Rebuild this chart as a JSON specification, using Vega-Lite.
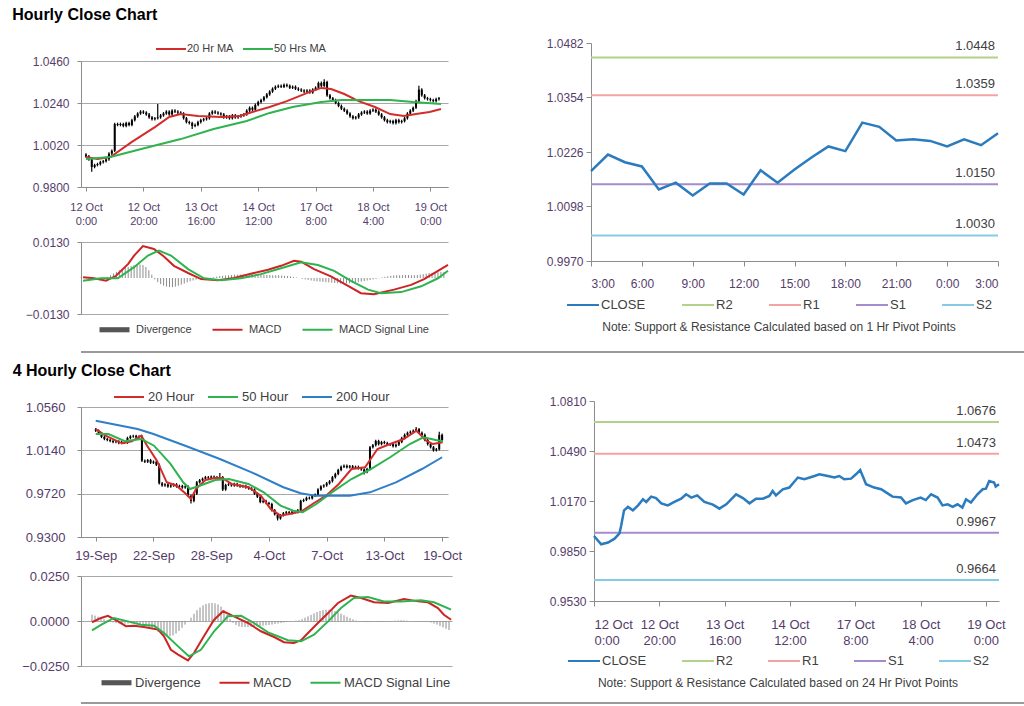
{
"$schema": "https://vega.github.io/schema/vega-lite/v6.json",
"background": "white",
"padding": {"left": 12, "top": 7, "right": 0, "bottom": 0},
"config": {
  "font": "Liberation Sans",
  "view": {"stroke": null},
  "axis": {"labelFont": "Liberation Sans", "labelColor": "#553d6b", "domainColor": "#8c8c8c", "tickColor": "#8c8c8c", "gridColor": "#a8a8a8", "labelFontSize": 12, "tickSize": 4},
  "legend": {"labelFont": "Liberation Sans", "labelColor": "#404040", "padding": 0, "symbolType": "stroke", "symbolSize": 900, "symbolStrokeWidth": 2, "labelOffset": 2, "direction": "horizontal", "titleLimit": 600},
  "title": {"font": "Liberation Sans"}
},
"datasets": {
  "h1": [
{"i":0,"o":0.9970,"h":0.9977,"l":0.9953,"c":0.9960},{"i":1,"o":0.9960,"h":0.9967,"l":0.9938,"c":0.9945},{"i":2,"o":0.9945,"h":0.9952,"l":0.9880,"c":0.9905},{"i":3,"o":0.9905,"h":0.9922,"l":0.9898,"c":0.9915},{"i":4,"o":0.9915,"h":0.9927,"l":0.9908,"c":0.9920},{"i":5,"o":0.9920,"h":0.9937,"l":0.9913,"c":0.9930},{"i":6,"o":0.9930,"h":0.9942,"l":0.9923,"c":0.9935},{"i":7,"o":0.9935,"h":0.9952,"l":0.9928,"c":0.9945},{"i":8,"o":0.9945,"h":0.9982,"l":0.9938,"c":0.9975},{"i":9,"o":0.9975,"h":0.9997,"l":0.9968,"c":0.9990},
{"i":10,"o":0.9990,"h":1.0137,"l":0.9983,"c":1.0130},{"i":11,"o":1.0130,"h":1.0137,"l":1.0118,"c":1.0125},{"i":12,"o":1.0125,"h":1.0137,"l":1.0118,"c":1.0130},{"i":13,"o":1.0130,"h":1.0137,"l":1.0113,"c":1.0120},{"i":14,"o":1.0120,"h":1.0142,"l":1.0113,"c":1.0135},{"i":15,"o":1.0135,"h":1.0142,"l":1.0118,"c":1.0125},{"i":16,"o":1.0125,"h":1.0157,"l":1.0118,"c":1.0150},{"i":17,"o":1.0150,"h":1.0177,"l":1.0143,"c":1.0170},{"i":18,"o":1.0170,"h":1.0192,"l":1.0163,"c":1.0185},{"i":19,"o":1.0185,"h":1.0202,"l":1.0178,"c":1.0195},
{"i":20,"o":1.0195,"h":1.0202,"l":1.0183,"c":1.0190},{"i":21,"o":1.0190,"h":1.0197,"l":1.0173,"c":1.0180},{"i":22,"o":1.0180,"h":1.0187,"l":1.0158,"c":1.0165},{"i":23,"o":1.0165,"h":1.0172,"l":1.0148,"c":1.0155},{"i":24,"o":1.0155,"h":1.0167,"l":1.0148,"c":1.0160},{"i":25,"o":1.0160,"h":1.0235,"l":1.0153,"c":1.0165},{"i":26,"o":1.0165,"h":1.0182,"l":1.0158,"c":1.0175},{"i":27,"o":1.0175,"h":1.0192,"l":1.0168,"c":1.0185},{"i":28,"o":1.0185,"h":1.0202,"l":1.0178,"c":1.0195},{"i":29,"o":1.0195,"h":1.0202,"l":1.0173,"c":1.0180},
{"i":30,"o":1.0180,"h":1.0207,"l":1.0173,"c":1.0200},{"i":31,"o":1.0200,"h":1.0207,"l":1.0188,"c":1.0195},{"i":32,"o":1.0195,"h":1.0202,"l":1.0183,"c":1.0190},{"i":33,"o":1.0190,"h":1.0197,"l":1.0178,"c":1.0185},{"i":34,"o":1.0185,"h":1.0192,"l":1.0153,"c":1.0160},{"i":35,"o":1.0160,"h":1.0167,"l":1.0133,"c":1.0140},{"i":36,"o":1.0140,"h":1.0147,"l":1.0128,"c":1.0135},{"i":37,"o":1.0135,"h":1.0142,"l":1.0104,"c":1.0120},{"i":38,"o":1.0120,"h":1.0132,"l":1.0113,"c":1.0125},{"i":39,"o":1.0125,"h":1.0147,"l":1.0118,"c":1.0140},
{"i":40,"o":1.0140,"h":1.0157,"l":1.0133,"c":1.0150},{"i":41,"o":1.0150,"h":1.0162,"l":1.0143,"c":1.0155},{"i":42,"o":1.0155,"h":1.0167,"l":1.0148,"c":1.0160},{"i":43,"o":1.0160,"h":1.0192,"l":1.0153,"c":1.0185},{"i":44,"o":1.0185,"h":1.0202,"l":1.0178,"c":1.0195},{"i":45,"o":1.0195,"h":1.0202,"l":1.0183,"c":1.0190},{"i":46,"o":1.0190,"h":1.0197,"l":1.0178,"c":1.0185},{"i":47,"o":1.0185,"h":1.0192,"l":1.0173,"c":1.0180},{"i":48,"o":1.0180,"h":1.0187,"l":1.0158,"c":1.0165},{"i":49,"o":1.0165,"h":1.0177,"l":1.0158,"c":1.0170},
{"i":50,"o":1.0170,"h":1.0177,"l":1.0153,"c":1.0160},{"i":51,"o":1.0160,"h":1.0182,"l":1.0153,"c":1.0175},{"i":52,"o":1.0175,"h":1.0182,"l":1.0158,"c":1.0165},{"i":53,"o":1.0165,"h":1.0177,"l":1.0158,"c":1.0170},{"i":54,"o":1.0170,"h":1.0182,"l":1.0163,"c":1.0175},{"i":55,"o":1.0175,"h":1.0187,"l":1.0168,"c":1.0180},{"i":56,"o":1.0180,"h":1.0207,"l":1.0173,"c":1.0200},{"i":57,"o":1.0200,"h":1.0222,"l":1.0193,"c":1.0215},{"i":58,"o":1.0215,"h":1.0222,"l":1.0198,"c":1.0205},{"i":59,"o":1.0205,"h":1.0237,"l":1.0198,"c":1.0230},
{"i":60,"o":1.0230,"h":1.0252,"l":1.0223,"c":1.0245},{"i":61,"o":1.0245,"h":1.0262,"l":1.0238,"c":1.0255},{"i":62,"o":1.0255,"h":1.0277,"l":1.0248,"c":1.0270},{"i":63,"o":1.0270,"h":1.0292,"l":1.0263,"c":1.0285},{"i":64,"o":1.0285,"h":1.0307,"l":1.0278,"c":1.0300},{"i":65,"o":1.0300,"h":1.0322,"l":1.0293,"c":1.0315},{"i":66,"o":1.0315,"h":1.0332,"l":1.0308,"c":1.0325},{"i":67,"o":1.0325,"h":1.0337,"l":1.0318,"c":1.0330},{"i":68,"o":1.0330,"h":1.0337,"l":1.0318,"c":1.0325},{"i":69,"o":1.0325,"h":1.0342,"l":1.0318,"c":1.0335},
{"i":70,"o":1.0335,"h":1.0342,"l":1.0323,"c":1.0330},{"i":71,"o":1.0330,"h":1.0337,"l":1.0313,"c":1.0320},{"i":72,"o":1.0320,"h":1.0332,"l":1.0313,"c":1.0325},{"i":73,"o":1.0325,"h":1.0332,"l":1.0308,"c":1.0315},{"i":74,"o":1.0315,"h":1.0322,"l":1.0303,"c":1.0310},{"i":75,"o":1.0310,"h":1.0317,"l":1.0298,"c":1.0305},{"i":76,"o":1.0305,"h":1.0312,"l":1.0293,"c":1.0300},{"i":77,"o":1.0300,"h":1.0312,"l":1.0293,"c":1.0305},{"i":78,"o":1.0305,"h":1.0312,"l":1.0288,"c":1.0295},{"i":79,"o":1.0295,"h":1.0317,"l":1.0288,"c":1.0310},
{"i":80,"o":1.0310,"h":1.0327,"l":1.0303,"c":1.0320},{"i":81,"o":1.0320,"h":1.0352,"l":1.0313,"c":1.0345},{"i":82,"o":1.0345,"h":1.0352,"l":1.0323,"c":1.0330},{"i":83,"o":1.0330,"h":1.0365,"l":1.0323,"c":1.0350},{"i":84,"o":1.0350,"h":1.0357,"l":1.0273,"c":1.0280},{"i":85,"o":1.0280,"h":1.0287,"l":1.0258,"c":1.0265},{"i":86,"o":1.0265,"h":1.0272,"l":1.0248,"c":1.0255},{"i":87,"o":1.0255,"h":1.0262,"l":1.0233,"c":1.0240},{"i":88,"o":1.0240,"h":1.0247,"l":1.0218,"c":1.0225},{"i":89,"o":1.0225,"h":1.0232,"l":1.0203,"c":1.0210},
{"i":90,"o":1.0210,"h":1.0217,"l":1.0193,"c":1.0200},{"i":91,"o":1.0200,"h":1.0207,"l":1.0178,"c":1.0185},{"i":92,"o":1.0185,"h":1.0192,"l":1.0163,"c":1.0170},{"i":93,"o":1.0170,"h":1.0177,"l":1.0153,"c":1.0160},{"i":94,"o":1.0160,"h":1.0172,"l":1.0153,"c":1.0165},{"i":95,"o":1.0165,"h":1.0187,"l":1.0158,"c":1.0180},{"i":96,"o":1.0180,"h":1.0197,"l":1.0173,"c":1.0190},{"i":97,"o":1.0190,"h":1.0202,"l":1.0183,"c":1.0195},{"i":98,"o":1.0195,"h":1.0202,"l":1.0178,"c":1.0185},{"i":99,"o":1.0185,"h":1.0207,"l":1.0178,"c":1.0200},
{"i":100,"o":1.0200,"h":1.0212,"l":1.0193,"c":1.0205},{"i":101,"o":1.0205,"h":1.0212,"l":1.0188,"c":1.0195},{"i":102,"o":1.0195,"h":1.0202,"l":1.0173,"c":1.0180},{"i":103,"o":1.0180,"h":1.0187,"l":1.0158,"c":1.0165},{"i":104,"o":1.0165,"h":1.0172,"l":1.0143,"c":1.0150},{"i":105,"o":1.0150,"h":1.0157,"l":1.0133,"c":1.0140},{"i":106,"o":1.0140,"h":1.0152,"l":1.0133,"c":1.0145},{"i":107,"o":1.0145,"h":1.0152,"l":1.0128,"c":1.0135},{"i":108,"o":1.0135,"h":1.0157,"l":1.0128,"c":1.0150},{"i":109,"o":1.0150,"h":1.0157,"l":1.0133,"c":1.0140},
{"i":110,"o":1.0140,"h":1.0152,"l":1.0133,"c":1.0145},{"i":111,"o":1.0145,"h":1.0167,"l":1.0138,"c":1.0160},{"i":112,"o":1.0160,"h":1.0192,"l":1.0153,"c":1.0185},{"i":113,"o":1.0185,"h":1.0207,"l":1.0178,"c":1.0200},{"i":114,"o":1.0200,"h":1.0222,"l":1.0193,"c":1.0215},{"i":115,"o":1.0215,"h":1.0257,"l":1.0208,"c":1.0250},{"i":116,"o":1.0250,"h":1.0330,"l":1.0243,"c":1.0310},{"i":117,"o":1.0310,"h":1.0317,"l":1.0273,"c":1.0280},{"i":118,"o":1.0280,"h":1.0287,"l":1.0258,"c":1.0265},{"i":119,"o":1.0265,"h":1.0272,"l":1.0253,"c":1.0260},
{"i":120,"o":1.0260,"h":1.0267,"l":1.0248,"c":1.0255},{"i":121,"o":1.0255,"h":1.0262,"l":1.0243,"c":1.0250},{"i":122,"o":1.0250,"h":1.0267,"l":1.0243,"c":1.0260},{"i":123,"o":1.0260,"h":1.0272,"l":1.0253,"c":1.0265}
  ],
  "h1ma": [
{"s":"20 Hr MA","i":0,"v":0.9957},{"s":"20 Hr MA","i":4,"v":0.9947},{"s":"20 Hr MA","i":8.5,"v":0.9957},{"s":"20 Hr MA","i":16,"v":1.0036},{"s":"20 Hr MA","i":24,"v":1.0114},{"s":"20 Hr MA","i":29,"v":1.0167},{"s":"20 Hr MA","i":33,"v":1.0182},{"s":"20 Hr MA","i":39,"v":1.0172},{"s":"20 Hr MA","i":47,"v":1.0167},{"s":"20 Hr MA","i":53.6,"v":1.0172},{"s":"20 Hr MA","i":58,"v":1.0193},{"s":"20 Hr MA","i":64,"v":1.0219},{"s":"20 Hr MA","i":70,"v":1.0250},{"s":"20 Hr MA","i":78,"v":1.0298},{"s":"20 Hr MA","i":82,"v":1.0319},{"s":"20 Hr MA","i":85.4,"v":1.0313},{"s":"20 Hr MA","i":90,"v":1.0287},{"s":"20 Hr MA","i":95,"v":1.0250},{"s":"20 Hr MA","i":100.7,"v":1.0219},{"s":"20 Hr MA","i":106,"v":1.0182},{"s":"20 Hr MA","i":110.8,"v":1.0172},{"s":"20 Hr MA","i":115,"v":1.0182},{"s":"20 Hr MA","i":119.7,"v":1.0193},{"s":"20 Hr MA","i":123.7,"v":1.0209},
{"s":"50 Hrs MA","i":0,"v":0.9947},{"s":"50 Hrs MA","i":8.5,"v":0.9957},{"s":"50 Hrs MA","i":22,"v":1.0010},{"s":"50 Hrs MA","i":33,"v":1.0051},{"s":"50 Hrs MA","i":44.5,"v":1.0104},{"s":"50 Hrs MA","i":56,"v":1.0146},{"s":"50 Hrs MA","i":64,"v":1.0188},{"s":"50 Hrs MA","i":72,"v":1.0219},{"s":"50 Hrs MA","i":82,"v":1.0245},{"s":"50 Hrs MA","i":89,"v":1.0256},{"s":"50 Hrs MA","i":106,"v":1.0256},{"s":"50 Hrs MA","i":114,"v":1.0245},{"s":"50 Hrs MA","i":123.7,"v":1.0235}
  ],
  "h1macd": [
{"s":"MACD","i":0.7,"v":0.0003},{"s":"MACD","i":4.4,"v":-0.0001},{"s":"MACD","i":8.5,"v":-0.0010},{"s":"MACD","i":11.9,"v":0.0008},{"s":"MACD","i":16,"v":0.0051},{"s":"MACD","i":18,"v":0.0081},{"s":"MACD","i":21,"v":0.0115},{"s":"MACD","i":24.7,"v":0.0105},{"s":"MACD","i":28.1,"v":0.0078},{"s":"MACD","i":31.5,"v":0.0044},{"s":"MACD","i":36.3,"v":0.0018},{"s":"MACD","i":40.7,"v":-0.0004},{"s":"MACD","i":46.4,"v":-0.0008},{"s":"MACD","i":51.9,"v":0.0000},{"s":"MACD","i":58.6,"v":0.0018},{"s":"MACD","i":63.4,"v":0.0030},{"s":"MACD","i":67.8,"v":0.0044},{"s":"MACD","i":72.2,"v":0.0062},{"s":"MACD","i":74.6,"v":0.0059},{"s":"MACD","i":79,"v":0.0032},{"s":"MACD","i":84.7,"v":0.0006},{"s":"MACD","i":90.5,"v":-0.0028},{"s":"MACD","i":94.9,"v":-0.0055},{"s":"MACD","i":99.3,"v":-0.0059},{"s":"MACD","i":106.1,"v":-0.0042},{"s":"MACD","i":111.9,"v":-0.0025},{"s":"MACD","i":116.3,"v":-0.0004},{"s":"MACD","i":121,"v":0.0026},{"s":"MACD","i":124.4,"v":0.0047},
{"s":"MACD Signal Line","i":0.7,"v":-0.0010},{"s":"MACD Signal Line","i":6.8,"v":-0.0001},{"s":"MACD Signal Line","i":12.5,"v":-0.0001},{"s":"MACD Signal Line","i":18,"v":0.0039},{"s":"MACD Signal Line","i":22.7,"v":0.0081},{"s":"MACD Signal Line","i":26.4,"v":0.0099},{"s":"MACD Signal Line","i":30.5,"v":0.0081},{"s":"MACD Signal Line","i":36.3,"v":0.0032},{"s":"MACD Signal Line","i":41.7,"v":-0.0001},{"s":"MACD Signal Line","i":47.5,"v":-0.0008},{"s":"MACD Signal Line","i":54.2,"v":-0.0001},{"s":"MACD Signal Line","i":61,"v":0.0014},{"s":"MACD Signal Line","i":67.8,"v":0.0035},{"s":"MACD Signal Line","i":74.6,"v":0.0057},{"s":"MACD Signal Line","i":80.3,"v":0.0047},{"s":"MACD Signal Line","i":85.8,"v":0.0026},{"s":"MACD Signal Line","i":91.5,"v":-0.0010},{"s":"MACD Signal Line","i":97.3,"v":-0.0042},{"s":"MACD Signal Line","i":101.7,"v":-0.0055},{"s":"MACD Signal Line","i":108.5,"v":-0.0051},{"s":"MACD Signal Line","i":115.3,"v":-0.0030},{"s":"MACD Signal Line","i":121,"v":-0.0001},{"s":"MACD Signal Line","i":124.4,"v":0.0026}
  ],
  "h1div": [
{"i":0,"v":0.0002},{"i":1,"v":0.0003},{"i":2,"v":0.0002},{"i":3,"v":0.0001},{"i":4,"v":-0.0002},{"i":5,"v":-0.0004},{"i":6,"v":-0.0005},{"i":7,"v":-0.0003},{"i":8,"v":0.0000},{"i":9,"v":0.0004},
{"i":10,"v":0.0010},{"i":11,"v":0.0016},{"i":12,"v":0.0022},{"i":13,"v":0.0028},{"i":14,"v":0.0033},{"i":15,"v":0.0037},{"i":16,"v":0.0040},{"i":17,"v":0.0043},{"i":18,"v":0.0046},{"i":19,"v":0.0048},
{"i":20,"v":0.0049},{"i":21,"v":0.0047},{"i":22,"v":0.0040},{"i":23,"v":0.0028},{"i":24,"v":0.0012},{"i":25,"v":-0.0005},{"i":26,"v":-0.0015},{"i":27,"v":-0.0022},{"i":28,"v":-0.0028},{"i":29,"v":-0.0031},
{"i":30,"v":-0.0033},{"i":31,"v":-0.0033},{"i":32,"v":-0.0031},{"i":33,"v":-0.0028},{"i":34,"v":-0.0024},{"i":35,"v":-0.0020},{"i":36,"v":-0.0016},{"i":37,"v":-0.0012},{"i":38,"v":-0.0009},{"i":39,"v":-0.0006},
{"i":40,"v":-0.0004},{"i":41,"v":-0.0003},{"i":42,"v":-0.0002},{"i":43,"v":-0.0001},{"i":44,"v":0.0001},{"i":45,"v":0.0003},{"i":46,"v":0.0005},{"i":47,"v":0.0007},{"i":48,"v":0.0008},{"i":49,"v":0.0009},
{"i":50,"v":0.0010},{"i":51,"v":0.0011},{"i":52,"v":0.0012},{"i":53,"v":0.0012},{"i":54,"v":0.0013},{"i":55,"v":0.0013},{"i":56,"v":0.0014},{"i":57,"v":0.0014},{"i":58,"v":0.0014},{"i":59,"v":0.0013},
{"i":60,"v":0.0013},{"i":61,"v":0.0012},{"i":62,"v":0.0012},{"i":63,"v":0.0011},{"i":64,"v":0.0011},{"i":65,"v":0.0010},{"i":66,"v":0.0010},{"i":67,"v":0.0010},{"i":68,"v":0.0009},{"i":69,"v":0.0008},
{"i":70,"v":0.0007},{"i":71,"v":0.0006},{"i":72,"v":0.0004},{"i":73,"v":0.0002},{"i":74,"v":0.0000},{"i":75,"v":-0.0003},{"i":76,"v":-0.0005},{"i":77,"v":-0.0007},{"i":78,"v":-0.0009},{"i":79,"v":-0.0011},
{"i":80,"v":-0.0012},{"i":81,"v":-0.0013},{"i":82,"v":-0.0014},{"i":83,"v":-0.0015},{"i":84,"v":-0.0016},{"i":85,"v":-0.0017},{"i":86,"v":-0.0018},{"i":87,"v":-0.0019},{"i":88,"v":-0.0020},{"i":89,"v":-0.0020},
{"i":90,"v":-0.0020},{"i":91,"v":-0.0019},{"i":92,"v":-0.0018},{"i":93,"v":-0.0017},{"i":94,"v":-0.0015},{"i":95,"v":-0.0013},{"i":96,"v":-0.0011},{"i":97,"v":-0.0009},{"i":98,"v":-0.0007},{"i":99,"v":-0.0005},
{"i":100,"v":-0.0003},{"i":101,"v":-0.0001},{"i":102,"v":0.0002},{"i":103,"v":0.0004},{"i":104,"v":0.0006},{"i":105,"v":0.0008},{"i":106,"v":0.0009},{"i":107,"v":0.0010},{"i":108,"v":0.0010},{"i":109,"v":0.0010},
{"i":110,"v":0.0011},{"i":111,"v":0.0011},{"i":112,"v":0.0010},{"i":113,"v":0.0010},{"i":114,"v":0.0011},{"i":115,"v":0.0012},{"i":116,"v":0.0014},{"i":117,"v":0.0016},{"i":118,"v":0.0018},{"i":119,"v":0.0019},
{"i":120,"v":0.0020},{"i":121,"v":0.0021},{"i":122,"v":0.0022},{"i":123,"v":0.0022}
  ],
  "r1": [
{"i":0,"v":1.0181},{"i":1,"v":1.0220},{"i":2,"v":1.0202},{"i":3,"v":1.0192},{"i":4,"v":1.0138},{"i":5,"v":1.0154},{"i":6,"v":1.0124},{"i":7,"v":1.0152},{"i":8,"v":1.0152},{"i":9,"v":1.0126},{"i":10,"v":1.0183},{"i":11,"v":1.0154},{"i":12,"v":1.0185},{"i":13,"v":1.0213},{"i":14,"v":1.0239},{"i":15,"v":1.0228},{"i":16,"v":1.0295},{"i":17,"v":1.0285},{"i":18,"v":1.0253},{"i":19,"v":1.0256},{"i":20,"v":1.0252},{"i":21,"v":1.0239},{"i":22,"v":1.0256},{"i":23,"v":1.0242},{"i":24,"v":1.0270}
  ],
  "p1": [{"s":"R2","v":1.0448},{"s":"R1","v":1.0359},{"s":"S1","v":1.0150},{"s":"S2","v":1.0030}],
  "h4": [
{"i":0,"o":1.0345,"h":1.0357,"l":1.0318,"c":1.0330},{"i":1,"o":1.0330,"h":1.0342,"l":1.0288,"c":1.0300},{"i":2,"o":1.0300,"h":1.0312,"l":1.0258,"c":1.0270},{"i":3,"o":1.0270,"h":1.0282,"l":1.0238,"c":1.0250},{"i":4,"o":1.0250,"h":1.0262,"l":1.0228,"c":1.0240},{"i":5,"o":1.0240,"h":1.0252,"l":1.0218,"c":1.0230},{"i":6,"o":1.0230,"h":1.0242,"l":1.0208,"c":1.0220},{"i":7,"o":1.0220,"h":1.0237,"l":1.0208,"c":1.0225},{"i":8,"o":1.0225,"h":1.0237,"l":1.0198,"c":1.0210},{"i":9,"o":1.0210,"h":1.0232,"l":1.0198,"c":1.0220},
{"i":10,"o":1.0220,"h":1.0232,"l":1.0203,"c":1.0215},{"i":11,"o":1.0215,"h":1.0272,"l":1.0203,"c":1.0260},{"i":12,"o":1.0260,"h":1.0287,"l":1.0248,"c":1.0275},{"i":13,"o":1.0275,"h":1.0292,"l":1.0263,"c":1.0280},{"i":14,"o":1.0280,"h":1.0292,"l":1.0253,"c":1.0265},{"i":15,"o":1.0265,"h":1.0287,"l":1.0253,"c":1.0275},{"i":16,"o":1.0275,"h":1.0287,"l":1.0028,"c":1.0040},{"i":17,"o":1.0040,"h":1.0052,"l":1.0018,"c":1.0030},{"i":18,"o":1.0030,"h":1.0057,"l":1.0018,"c":1.0045},{"i":19,"o":1.0045,"h":1.0057,"l":1.0008,"c":1.0020},
{"i":20,"o":1.0020,"h":1.0042,"l":1.0008,"c":1.0030},{"i":21,"o":1.0030,"h":1.0042,"l":0.9988,"c":1.0000},{"i":22,"o":1.0000,"h":1.0012,"l":0.9808,"c":0.9820},{"i":23,"o":0.9820,"h":0.9832,"l":0.9788,"c":0.9800},{"i":24,"o":0.9800,"h":0.9822,"l":0.9788,"c":0.9810},{"i":25,"o":0.9810,"h":0.9822,"l":0.9778,"c":0.9790},{"i":26,"o":0.9790,"h":0.9812,"l":0.9778,"c":0.9800},{"i":27,"o":0.9800,"h":0.9822,"l":0.9788,"c":0.9810},{"i":28,"o":0.9810,"h":0.9822,"l":0.9778,"c":0.9790},{"i":29,"o":0.9790,"h":0.9807,"l":0.9778,"c":0.9795},
{"i":30,"o":0.9795,"h":0.9807,"l":0.9768,"c":0.9780},{"i":31,"o":0.9780,"h":0.9802,"l":0.9768,"c":0.9790},{"i":32,"o":0.9790,"h":0.9802,"l":0.9688,"c":0.9700},{"i":33,"o":0.9700,"h":0.9712,"l":0.9625,"c":0.9650},{"i":34,"o":0.9650,"h":0.9732,"l":0.9638,"c":0.9720},{"i":35,"o":0.9720,"h":0.9842,"l":0.9708,"c":0.9830},{"i":36,"o":0.9830,"h":0.9862,"l":0.9818,"c":0.9850},{"i":37,"o":0.9850,"h":0.9877,"l":0.9838,"c":0.9865},{"i":38,"o":0.9865,"h":0.9892,"l":0.9853,"c":0.9880},{"i":39,"o":0.9880,"h":0.9892,"l":0.9863,"c":0.9875},
{"i":40,"o":0.9875,"h":0.9897,"l":0.9863,"c":0.9885},{"i":41,"o":0.9885,"h":0.9897,"l":0.9868,"c":0.9880},{"i":42,"o":0.9880,"h":0.9892,"l":0.9863,"c":0.9875},{"i":43,"o":0.9875,"h":0.9920,"l":0.9863,"c":0.9880},{"i":44,"o":0.9880,"h":0.9892,"l":0.9745,"c":0.9760},{"i":45,"o":0.9760,"h":0.9817,"l":0.9748,"c":0.9805},{"i":46,"o":0.9805,"h":0.9822,"l":0.9793,"c":0.9810},{"i":47,"o":0.9810,"h":0.9822,"l":0.9788,"c":0.9800},{"i":48,"o":0.9800,"h":0.9827,"l":0.9788,"c":0.9815},{"i":49,"o":0.9815,"h":0.9827,"l":0.9788,"c":0.9800},
{"i":50,"o":0.9800,"h":0.9812,"l":0.9778,"c":0.9790},{"i":51,"o":0.9790,"h":0.9807,"l":0.9778,"c":0.9795},{"i":52,"o":0.9795,"h":0.9807,"l":0.9768,"c":0.9780},{"i":53,"o":0.9780,"h":0.9792,"l":0.9758,"c":0.9770},{"i":54,"o":0.9770,"h":0.9782,"l":0.9748,"c":0.9760},{"i":55,"o":0.9760,"h":0.9772,"l":0.9708,"c":0.9720},{"i":56,"o":0.9720,"h":0.9732,"l":0.9678,"c":0.9690},{"i":57,"o":0.9690,"h":0.9702,"l":0.9628,"c":0.9640},{"i":58,"o":0.9640,"h":0.9662,"l":0.9628,"c":0.9650},{"i":59,"o":0.9650,"h":0.9662,"l":0.9618,"c":0.9630},
{"i":60,"o":0.9630,"h":0.9642,"l":0.9608,"c":0.9620},{"i":61,"o":0.9620,"h":0.9632,"l":0.9548,"c":0.9560},{"i":62,"o":0.9560,"h":0.9572,"l":0.9508,"c":0.9520},{"i":63,"o":0.9520,"h":0.9532,"l":0.9460,"c":0.9480},{"i":64,"o":0.9480,"h":0.9522,"l":0.9468,"c":0.9510},{"i":65,"o":0.9510,"h":0.9542,"l":0.9498,"c":0.9530},{"i":66,"o":0.9530,"h":0.9552,"l":0.9518,"c":0.9540},{"i":67,"o":0.9540,"h":0.9552,"l":0.9518,"c":0.9530},{"i":68,"o":0.9530,"h":0.9557,"l":0.9518,"c":0.9545},{"i":69,"o":0.9545,"h":0.9557,"l":0.9528,"c":0.9540},
{"i":70,"o":0.9540,"h":0.9572,"l":0.9528,"c":0.9560},{"i":71,"o":0.9560,"h":0.9662,"l":0.9548,"c":0.9650},{"i":72,"o":0.9650,"h":0.9672,"l":0.9638,"c":0.9660},{"i":73,"o":0.9660,"h":0.9692,"l":0.9648,"c":0.9680},{"i":74,"o":0.9680,"h":0.9692,"l":0.9663,"c":0.9675},{"i":75,"o":0.9675,"h":0.9712,"l":0.9663,"c":0.9700},{"i":76,"o":0.9700,"h":0.9722,"l":0.9688,"c":0.9710},{"i":77,"o":0.9710,"h":0.9772,"l":0.9698,"c":0.9760},{"i":78,"o":0.9760,"h":0.9802,"l":0.9748,"c":0.9790},{"i":79,"o":0.9790,"h":0.9812,"l":0.9778,"c":0.9800},
{"i":80,"o":0.9800,"h":0.9832,"l":0.9788,"c":0.9820},{"i":81,"o":0.9820,"h":0.9852,"l":0.9808,"c":0.9840},{"i":82,"o":0.9840,"h":0.9892,"l":0.9828,"c":0.9880},{"i":83,"o":0.9880,"h":0.9922,"l":0.9868,"c":0.9910},{"i":84,"o":0.9910,"h":0.9962,"l":0.9898,"c":0.9950},{"i":85,"o":0.9950,"h":0.9992,"l":0.9938,"c":0.9980},{"i":86,"o":0.9980,"h":1.0002,"l":0.9968,"c":0.9990},{"i":87,"o":0.9990,"h":1.0002,"l":0.9963,"c":0.9975},{"i":88,"o":0.9975,"h":0.9997,"l":0.9963,"c":0.9985},{"i":89,"o":0.9985,"h":0.9997,"l":0.9958,"c":0.9970},
{"i":90,"o":0.9970,"h":0.9992,"l":0.9958,"c":0.9980},{"i":91,"o":0.9980,"h":0.9992,"l":0.9953,"c":0.9965},{"i":92,"o":0.9965,"h":0.9977,"l":0.9943,"c":0.9955},{"i":93,"o":0.9955,"h":0.9967,"l":0.9905,"c":0.9930},{"i":94,"o":0.9930,"h":0.9972,"l":0.9918,"c":0.9960},{"i":95,"o":0.9960,"h":1.0182,"l":0.9948,"c":1.0170},{"i":96,"o":1.0170,"h":1.0202,"l":1.0158,"c":1.0190},{"i":97,"o":1.0190,"h":1.0242,"l":1.0178,"c":1.0230},{"i":98,"o":1.0230,"h":1.0242,"l":1.0188,"c":1.0200},{"i":99,"o":1.0200,"h":1.0232,"l":1.0188,"c":1.0220},
{"i":100,"o":1.0220,"h":1.0232,"l":1.0198,"c":1.0210},{"i":101,"o":1.0210,"h":1.0222,"l":1.0183,"c":1.0195},{"i":102,"o":1.0195,"h":1.0212,"l":1.0183,"c":1.0200},{"i":103,"o":1.0200,"h":1.0212,"l":1.0168,"c":1.0180},{"i":104,"o":1.0180,"h":1.0207,"l":1.0168,"c":1.0195},{"i":105,"o":1.0195,"h":1.0232,"l":1.0183,"c":1.0220},{"i":106,"o":1.0220,"h":1.0272,"l":1.0208,"c":1.0260},{"i":107,"o":1.0260,"h":1.0302,"l":1.0248,"c":1.0290},{"i":108,"o":1.0290,"h":1.0322,"l":1.0278,"c":1.0310},{"i":109,"o":1.0310,"h":1.0332,"l":1.0298,"c":1.0320},
{"i":110,"o":1.0320,"h":1.0342,"l":1.0308,"c":1.0330},{"i":111,"o":1.0330,"h":1.0365,"l":1.0318,"c":1.0345},{"i":112,"o":1.0345,"h":1.0357,"l":1.0298,"c":1.0310},{"i":113,"o":1.0310,"h":1.0322,"l":1.0278,"c":1.0290},{"i":114,"o":1.0290,"h":1.0302,"l":1.0228,"c":1.0240},{"i":115,"o":1.0240,"h":1.0252,"l":1.0188,"c":1.0200},{"i":116,"o":1.0200,"h":1.0212,"l":1.0158,"c":1.0170},{"i":117,"o":1.0170,"h":1.0182,"l":1.0128,"c":1.0140},{"i":118,"o":1.0140,"h":1.0162,"l":1.0128,"c":1.0150},{"i":119,"o":1.0150,"h":1.0320,"l":1.0138,"c":1.0290},
{"i":120,"o":1.0290,"h":1.0302,"l":1.0228,"c":1.0240}
  ],
  "h4ma": [
{"s":"20 Hour","i":0,"v":1.0347},{"s":"20 Hour","i":3.4,"v":1.0282},{"s":"20 Hour","i":9.1,"v":1.0208},{"s":"20 Hour","i":12.5,"v":1.0228},{"s":"20 Hour","i":15.8,"v":1.0282},{"s":"20 Hour","i":17.8,"v":1.0185},{"s":"20 Hour","i":21.2,"v":1.0040},{"s":"20 Hour","i":24.6,"v":0.9830},{"s":"20 Hour","i":28,"v":0.9797},{"s":"20 Hour","i":31.3,"v":0.9717},{"s":"20 Hour","i":33,"v":0.9669},{"s":"20 Hour","i":34.7,"v":0.9765},{"s":"20 Hour","i":38,"v":0.9853},{"s":"20 Hour","i":41.4,"v":0.9872},{"s":"20 Hour","i":43.8,"v":0.9872},{"s":"20 Hour","i":47.1,"v":0.9814},{"s":"20 Hour","i":52.9,"v":0.9782},{"s":"20 Hour","i":57.2,"v":0.9701},{"s":"20 Hour","i":60.6,"v":0.9572},{"s":"20 Hour","i":64,"v":0.9507},{"s":"20 Hour","i":68.4,"v":0.9530},{"s":"20 Hour","i":71.7,"v":0.9555},{"s":"20 Hour","i":75.1,"v":0.9620},{"s":"20 Hour","i":79.8,"v":0.9701},{"s":"20 Hour","i":84.2,"v":0.9814},{"s":"20 Hour","i":88.6,"v":0.9959},{"s":"20 Hour","i":93.3,"v":0.9976},{"s":"20 Hour","i":97.6,"v":1.0153},{"s":"20 Hour","i":102,"v":1.0201},{"s":"20 Hour","i":106.7,"v":1.0250},{"s":"20 Hour","i":111.1,"v":1.0330},{"s":"20 Hour","i":114.5,"v":1.0234},{"s":"20 Hour","i":116.8,"v":1.0201},{"s":"20 Hour","i":120.2,"v":1.0218},
{"s":"50 Hour","i":0,"v":1.0298},{"s":"50 Hour","i":4.4,"v":1.0298},{"s":"50 Hour","i":10.1,"v":1.0228},{"s":"50 Hour","i":15.8,"v":1.0250},{"s":"50 Hour","i":20.2,"v":1.0185},{"s":"50 Hour","i":25.9,"v":1.0008},{"s":"50 Hour","i":30.3,"v":0.9830},{"s":"50 Hour","i":32.7,"v":0.9765},{"s":"50 Hour","i":36,"v":0.9797},{"s":"50 Hour","i":41.4,"v":0.9853},{"s":"50 Hour","i":46.1,"v":0.9862},{"s":"50 Hour","i":52.9,"v":0.9814},{"s":"50 Hour","i":58.2,"v":0.9733},{"s":"50 Hour","i":64,"v":0.9604},{"s":"50 Hour","i":68.4,"v":0.9555},{"s":"50 Hour","i":71.7,"v":0.9540},{"s":"50 Hour","i":76.4,"v":0.9620},{"s":"50 Hour","i":81.8,"v":0.9733},{"s":"50 Hour","i":88.6,"v":0.9862},{"s":"50 Hour","i":95.3,"v":0.9959},{"s":"50 Hour","i":102,"v":1.0073},{"s":"50 Hour","i":108.8,"v":1.0201},{"s":"50 Hour","i":113.5,"v":1.0266},{"s":"50 Hour","i":117.8,"v":1.0240},{"s":"50 Hour","i":120.2,"v":1.0228},
{"s":"200 Hour","i":0,"v":1.0427},{"s":"200 Hour","i":14.5,"v":1.0347},{"s":"200 Hour","i":20,"v":1.0298},{"s":"200 Hour","i":31,"v":1.0185},{"s":"200 Hour","i":43,"v":1.0056},{"s":"200 Hour","i":54,"v":0.9927},{"s":"200 Hour","i":65,"v":0.9782},{"s":"200 Hour","i":71,"v":0.9724},{"s":"200 Hour","i":76,"v":0.9701},{"s":"200 Hour","i":88,"v":0.9701},{"s":"200 Hour","i":95,"v":0.9733},{"s":"200 Hour","i":104,"v":0.9830},{"s":"200 Hour","i":113,"v":0.9959},{"s":"200 Hour","i":120,"v":1.0073}
  ],
  "h4macd": [
{"s":"MACD","i":0,"v":-0.0007},{"s":"MACD","i":3,"v":0.0017},{"s":"MACD","i":5.3,"v":0.0029},{"s":"MACD","i":8.7,"v":-0.0002},{"s":"MACD","i":11.3,"v":-0.0029},{"s":"MACD","i":14,"v":-0.0026},{"s":"MACD","i":17.3,"v":-0.0033},{"s":"MACD","i":22,"v":-0.0048},{"s":"MACD","i":24,"v":-0.0085},{"s":"MACD","i":26.3,"v":-0.0160},{"s":"MACD","i":28.7,"v":-0.0187},{"s":"MACD","i":32,"v":-0.0219},{"s":"MACD","i":34,"v":-0.0178},{"s":"MACD","i":37.3,"v":-0.0085},{"s":"MACD","i":40.7,"v":0.0007},{"s":"MACD","i":43.7,"v":0.0054},{"s":"MACD","i":47.3,"v":0.0026},{"s":"MACD","i":52,"v":-0.0011},{"s":"MACD","i":56.3,"v":-0.0057},{"s":"MACD","i":60.7,"v":-0.0089},{"s":"MACD","i":64,"v":-0.0118},{"s":"MACD","i":67.3,"v":-0.0122},{"s":"MACD","i":69.7,"v":-0.0107},{"s":"MACD","i":72,"v":-0.0067},{"s":"MACD","i":75.3,"v":-0.0011},{"s":"MACD","i":78.7,"v":0.0044},{"s":"MACD","i":82,"v":0.0100},{"s":"MACD","i":86.3,"v":0.0141},{"s":"MACD","i":89.7,"v":0.0128},{"s":"MACD","i":94,"v":0.0104},{"s":"MACD","i":98.7,"v":0.0100},{"s":"MACD","i":104,"v":0.0122},{"s":"MACD","i":108.7,"v":0.0109},{"s":"MACD","i":112,"v":0.0104},{"s":"MACD","i":115.3,"v":0.0072},{"s":"MACD","i":117.3,"v":0.0035},{"s":"MACD","i":119.7,"v":0.0007},
{"s":"MACD Signal Line","i":0,"v":-0.0052},{"s":"MACD Signal Line","i":3,"v":-0.0021},{"s":"MACD Signal Line","i":7.3,"v":0.0017},{"s":"MACD Signal Line","i":12,"v":-0.0002},{"s":"MACD Signal Line","i":16.3,"v":-0.0021},{"s":"MACD Signal Line","i":20.7,"v":-0.0026},{"s":"MACD Signal Line","i":24,"v":-0.0067},{"s":"MACD Signal Line","i":28.7,"v":-0.0141},{"s":"MACD Signal Line","i":32.3,"v":-0.0196},{"s":"MACD Signal Line","i":36.3,"v":-0.0160},{"s":"MACD Signal Line","i":40.7,"v":-0.0057},{"s":"MACD Signal Line","i":45.3,"v":0.0026},{"s":"MACD Signal Line","i":49.7,"v":0.0029},{"s":"MACD Signal Line","i":54,"v":-0.0011},{"s":"MACD Signal Line","i":58.7,"v":-0.0063},{"s":"MACD Signal Line","i":65.3,"v":-0.0107},{"s":"MACD Signal Line","i":69.7,"v":-0.0113},{"s":"MACD Signal Line","i":74,"v":-0.0076},{"s":"MACD Signal Line","i":78.7,"v":-0.0002},{"s":"MACD Signal Line","i":83,"v":0.0072},{"s":"MACD Signal Line","i":87.3,"v":0.0128},{"s":"MACD Signal Line","i":92,"v":0.0133},{"s":"MACD Signal Line","i":97.3,"v":0.0109},{"s":"MACD Signal Line","i":103,"v":0.0109},{"s":"MACD Signal Line","i":109.7,"v":0.0115},{"s":"MACD Signal Line","i":114,"v":0.0104},{"s":"MACD Signal Line","i":119.7,"v":0.0063}
  ],
  "h4div": [
{"i":0,"v":0.0035},{"i":1,"v":0.0030},{"i":2,"v":0.0024},{"i":3,"v":0.0017},{"i":4,"v":0.0010},{"i":5,"v":0.0004},{"i":6,"v":-0.0003},{"i":7,"v":-0.0008},{"i":8,"v":-0.0012},{"i":9,"v":-0.0014},
{"i":10,"v":-0.0015},{"i":11,"v":-0.0015},{"i":12,"v":-0.0014},{"i":13,"v":-0.0013},{"i":14,"v":-0.0013},{"i":15,"v":-0.0014},{"i":16,"v":-0.0016},{"i":17,"v":-0.0020},{"i":18,"v":-0.0026},{"i":19,"v":-0.0033},
{"i":20,"v":-0.0041},{"i":21,"v":-0.0050},{"i":22,"v":-0.0060},{"i":23,"v":-0.0070},{"i":24,"v":-0.0078},{"i":25,"v":-0.0084},{"i":26,"v":-0.0085},{"i":27,"v":-0.0080},{"i":28,"v":-0.0070},{"i":29,"v":-0.0055},
{"i":30,"v":-0.0038},{"i":31,"v":-0.0020},{"i":32,"v":-0.0002},{"i":33,"v":0.0018},{"i":34,"v":0.0040},{"i":35,"v":0.0060},{"i":36,"v":0.0075},{"i":37,"v":0.0087},{"i":38,"v":0.0095},{"i":39,"v":0.0099},
{"i":40,"v":0.0100},{"i":41,"v":0.0098},{"i":42,"v":0.0092},{"i":43,"v":0.0080},{"i":44,"v":0.0060},{"i":45,"v":0.0035},{"i":46,"v":0.0010},{"i":47,"v":-0.0010},{"i":48,"v":-0.0022},{"i":49,"v":-0.0030},
{"i":50,"v":-0.0033},{"i":51,"v":-0.0034},{"i":52,"v":-0.0033},{"i":53,"v":-0.0032},{"i":54,"v":-0.0030},{"i":55,"v":-0.0029},{"i":56,"v":-0.0028},{"i":57,"v":-0.0026},{"i":58,"v":-0.0024},{"i":59,"v":-0.0022},
{"i":60,"v":-0.0020},{"i":61,"v":-0.0017},{"i":62,"v":-0.0014},{"i":63,"v":-0.0011},{"i":64,"v":-0.0008},{"i":65,"v":-0.0005},{"i":66,"v":-0.0002},{"i":67,"v":0.0000},{"i":68,"v":0.0002},{"i":69,"v":0.0005},
{"i":70,"v":0.0010},{"i":71,"v":0.0018},{"i":72,"v":0.0026},{"i":73,"v":0.0034},{"i":74,"v":0.0042},{"i":75,"v":0.0050},{"i":76,"v":0.0056},{"i":77,"v":0.0060},{"i":78,"v":0.0063},{"i":79,"v":0.0063},
{"i":80,"v":0.0060},{"i":81,"v":0.0055},{"i":82,"v":0.0048},{"i":83,"v":0.0040},{"i":84,"v":0.0032},{"i":85,"v":0.0024},{"i":86,"v":0.0016},{"i":87,"v":0.0009},{"i":88,"v":0.0003},{"i":89,"v":-0.0002},
{"i":90,"v":-0.0005},{"i":91,"v":-0.0006},{"i":92,"v":-0.0006},{"i":93,"v":-0.0005},{"i":94,"v":-0.0004},{"i":95,"v":-0.0004},{"i":96,"v":-0.0005},{"i":97,"v":-0.0005},{"i":98,"v":-0.0004},{"i":99,"v":-0.0002},
{"i":100,"v":0.0000},{"i":101,"v":0.0002},{"i":102,"v":0.0003},{"i":103,"v":0.0004},{"i":104,"v":0.0003},{"i":105,"v":0.0002},{"i":106,"v":0.0000},{"i":107,"v":-0.0002},{"i":108,"v":-0.0003},{"i":109,"v":-0.0004},
{"i":110,"v":-0.0004},{"i":111,"v":-0.0003},{"i":112,"v":-0.0004},{"i":113,"v":-0.0008},{"i":114,"v":-0.0014},{"i":115,"v":-0.0020},{"i":116,"v":-0.0028},{"i":117,"v":-0.0036},{"i":118,"v":-0.0043},{"i":119,"v":-0.0050}
  ],
  "r2": [
{"i":0,"v":0.9946},{"i":2.2,"v":0.9893},{"i":4.3,"v":0.9904},{"i":6.3,"v":0.9929},{"i":7.8,"v":0.9963},{"i":8.3,"v":1.0010},{"i":9.2,"v":1.0110},{"i":10.4,"v":1.0132},{"i":11.9,"v":1.0110},{"i":13.5,"v":1.0142},{"i":15,"v":1.0181},{"i":16,"v":1.0164},{"i":17.5,"v":1.0198},{"i":19,"v":1.0189},{"i":20.6,"v":1.0155},{"i":22.6,"v":1.0142},{"i":24.6,"v":1.0164},{"i":26.7,"v":1.0185},{"i":28.2,"v":1.0213},{"i":29.8,"v":1.0192},{"i":31.6,"v":1.0206},{"i":33.8,"v":1.0164},{"i":36.4,"v":1.0147},{"i":38.4,"v":1.0121},{"i":40.5,"v":1.0149},{"i":43.5,"v":1.0213},{"i":45.6,"v":1.0189},{"i":47.6,"v":1.0155},{"i":49.6,"v":1.0185},{"i":51.7,"v":1.0185},{"i":53.7,"v":1.0202},{"i":54.7,"v":1.0234},{"i":55.7,"v":1.0206},{"i":57.8,"v":1.0245},{"i":59.8,"v":1.0256},{"i":62.4,"v":1.0320},{"i":64.4,"v":1.0309},{"i":67.5,"v":1.0330},{"i":69,"v":1.0341},{"i":71.6,"v":1.0330},{"i":73.6,"v":1.0320},{"i":75.1,"v":1.0330},{"i":76.6,"v":1.0309},{"i":78.7,"v":1.0313},{"i":80.2,"v":1.0341},{"i":81.5,"v":1.0368},{"i":83.3,"v":1.0277},{"i":85.8,"v":1.0256},{"i":87.9,"v":1.0245},{"i":89.9,"v":1.0219},{"i":91.4,"v":1.0198},{"i":94,"v":1.0192},{"i":95.5,"v":1.0155},{"i":97.6,"v":1.0176},{"i":100,"v":1.0192},{"i":101.6,"v":1.0176},{"i":103.2,"v":1.0213},{"i":105.2,"v":1.0192},{"i":106.7,"v":1.0142},{"i":108.3,"v":1.0149},{"i":109.8,"v":1.0132},{"i":111.3,"v":1.0149},{"i":112.8,"v":1.0128},{"i":113.9,"v":1.0181},{"i":115.4,"v":1.0160},{"i":117.4,"v":1.0213},{"i":119,"v":1.0245},{"i":120,"v":1.0249},{"i":121,"v":1.0298},{"i":122.5,"v":1.0288},{"i":123,"v":1.0262},{"i":124,"v":1.0277}
  ],
  "p2": [{"s":"R2","v":1.0676},{"s":"R1","v":1.0473},{"s":"S1","v":0.9967},{"s":"S2","v":0.9664}],
  "sep": [{"y": 0}]
},
"concat": [
  {
    "title": {"text": "Hourly Close Chart", "anchor": "start", "fontSize": 16, "fontWeight": "bold", "color": "#000000", "dx": -13, "offset": 10},
    "concat": [
      {
        "vconcat": [
          {
            "width": 367, "height": 144,
            "layer": [
              {"data": {"name": "h1"}, "mark": {"type": "rule", "color": "#000000", "strokeWidth": 1.2},
               "encoding": {
                 "x": {"field": "i", "type": "quantitative", "title": null, "scale": {"domain": [0, 124.4], "nice": false, "zero": false},
                   "axis": {"values": [0, 20, 40, 60, 80, 100, 120], "labelExpr": "[['12 Oct','12 Oct','13 Oct','14 Oct','17 Oct','18 Oct','19 Oct'][datum.value/20], ['0:00','20:00','16:00','12:00','8:00','4:00','0:00'][datum.value/20]]", "grid": false, "labelFontSize": 11, "labelLineHeight": 14, "labelPadding": 10, "labelBaseline": "top"}},
                 "y": {"field": "l", "type": "quantitative", "title": null, "scale": {"domain": [0.98, 1.046], "range": [144, 18], "nice": false, "zero": false},
                   "axis": {"values": [0.98, 1.002, 1.024, 1.046], "format": ".4f", "grid": true, "labelPadding": 8}},
                 "y2": {"field": "h"}}},
              {"data": {"name": "h1"}, "mark": {"type": "bar", "color": "#000000", "width": 2},
               "encoding": {"x": {"field": "i", "type": "quantitative", "title": null}, "y": {"field": "o", "type": "quantitative", "title": null}, "y2": {"field": "c"}}},
              {"data": {"name": "h1ma"}, "mark": {"type": "line", "strokeWidth": 2},
               "encoding": {"x": {"field": "i", "type": "quantitative", "title": null}, "y": {"field": "v", "type": "quantitative", "title": null},
                 "color": {"field": "s", "type": "nominal", "scale": {"domain": ["20 Hr MA", "50 Hrs MA"], "range": ["#d42b2b", "#2eb34f"]},
                   "legend": {"title": null, "orient": "none", "legendX": 74, "legendY": -10, "labelFontSize": 11, "columnPadding": 5, "labelOffset": 0}}}}
            ]
          },
          {
            "width": 367, "height": 72,
            "layer": [
              {"data": {"name": "h1div"}, "mark": {"type": "rule", "strokeWidth": 1},
               "encoding": {
                 "x": {"field": "i", "type": "quantitative", "title": null, "scale": {"domain": [0, 124.4], "nice": false, "zero": false}, "axis": null},
                 "y": {"field": "v", "type": "quantitative", "title": null, "scale": {"domain": [-0.013, 0.013], "nice": false},
                   "axis": {"values": [-0.013, 0, 0.013], "format": ".4f", "grid": true, "labelPadding": 8}},
                 "y2": {"datum": 0},
                 "color": {"datum": "Divergence", "scale": {"domain": ["Divergence", "MACD", "MACD Signal Line"], "range": ["#8c8c8c", "#cc2424", "#2eb34f"]}}}},
              {"data": {"name": "h1macd"}, "mark": {"type": "line", "strokeWidth": 2},
               "encoding": {"x": {"field": "i", "type": "quantitative", "title": null}, "y": {"field": "v", "type": "quantitative", "title": null},
                 "color": {"field": "s", "type": "nominal", "scale": {"domain": ["Divergence", "MACD", "MACD Signal Line"], "range": ["#8c8c8c", "#cc2424", "#2eb34f"]},
                   "legend": {"title": null, "orient": "none", "legendX": 28, "legendY": 82, "labelFontSize": 11, "columnPadding": 16, "labelOffset": 16,
                     "encode": {"symbols": {"update": {"shape": {"signal": "datum.value === 'Divergence' ? 'M-1,-0.17H1V0.17H-1Z' : 'stroke'"}, "fill": {"signal": "datum.value === 'Divergence' ? '#555555' : 'transparent'"}, "strokeWidth": {"signal": "datum.value === 'Divergence' ? 0 : 2"}}}}}}}}
            ]
          }
        ],
        "spacing": 10,
        "resolve": {"scale": {"color": "independent"}, "legend": {"color": "independent"}}
      },
      {
        "width": 407, "height": 218,
        "layer": [
          {"data": {"name": "p1"}, "mark": {"type": "rule", "strokeWidth": 2},
           "encoding": {
             "y": {"field": "v", "type": "quantitative", "title": null, "scale": {"domain": [0.997, 1.0482], "nice": false, "zero": false},
               "axis": {"values": [0.997, 1.0098, 1.0226, 1.0354, 1.0482], "format": ".4f", "grid": false, "tickSize": 5, "labelPadding": 3}},
             "color": {"field": "s", "type": "nominal", "scale": {"domain": ["CLOSE", "R2", "R1", "S1", "S2"], "range": ["#2b7bbf", "#b3d18a", "#f2a3a3", "#a58ccf", "#86cbe3"]},
               "legend": {"title": "Note: Support & Resistance Calculated based on 1 Hr Pivot Points", "titleOrient": "bottom", "titleAnchor": "middle", "titleFontWeight": "normal", "titleFontSize": 12, "titleColor": "#404040", "titlePadding": 10, "orient": "none", "legendX": -25, "legendY": 245, "labelFontSize": 13, "columnPadding": 32, "labelOffset": 1, "symbolSize": 1024}}}},
          {"data": {"name": "r1"}, "mark": {"type": "line", "strokeWidth": 2.5},
           "encoding": {
             "x": {"field": "i", "type": "quantitative", "title": null, "scale": {"domain": [0, 24], "nice": false, "zero": false},
               "axis": {"values": [0, 3, 6, 9, 12, 15, 18, 21, 24], "labelExpr": "['3:00','6:00','9:00','12:00','15:00','18:00','21:00','0:00','3:00'][datum.value/3]", "grid": false, "tickSize": 5, "labelPadding": 12}},
             "y": {"field": "v", "type": "quantitative", "title": null},
             "color": {"datum": "CLOSE"}}},
          {"data": {"name": "p1"}, "mark": {"type": "text", "align": "right", "baseline": "bottom", "dx": -3, "dy": -4, "fontSize": 13, "color": "#404040"},
           "encoding": {"x": {"datum": 24}, "y": {"field": "v", "type": "quantitative", "title": null}, "text": {"field": "v", "type": "quantitative", "format": ".4f"}}}
        ]
      }
    ],
    "columns": 2, "align": "none", "spacing": 94,
    "resolve": {"scale": {"color": "independent"}, "legend": {"color": "independent"}}
  },
  {
    "width": 944, "height": 7,
    "data": {"name": "sep"},
    "mark": {"type": "rule", "color": "#9a9a9a", "strokeWidth": 2},
    "encoding": {"y": {"field": "y", "type": "quantitative", "scale": {"domain": [0, 1]}, "axis": null}}
  },
  {
    "title": {"text": "4 Hourly Close Chart", "anchor": "start", "fontSize": 16, "fontWeight": "bold", "color": "#000000", "dx": -9, "offset": 2},
    "concat": [
      {
        "vconcat": [
          {
            "width": 367, "height": 136,
            "layer": [
              {"data": {"name": "h4"}, "mark": {"type": "rule", "color": "#000000", "strokeWidth": 1.2},
               "encoding": {
                 "x": {"field": "i", "type": "quantitative", "title": null, "scale": {"domain": [-3.37, 120.3], "nice": false, "zero": false},
                   "axis": {"values": [0, 20, 40, 60, 80, 100, 120], "labelExpr": "['19-Sep','22-Sep','28-Sep','4-Oct','7-Oct','13-Oct','19-Oct'][datum.value/20]", "grid": false, "labelFontSize": 13, "labelPadding": 8}},
                 "y": {"field": "l", "type": "quantitative", "title": null, "scale": {"domain": [0.93, 1.056], "range": [136, 6], "nice": false, "zero": false},
                   "axis": {"values": [0.93, 0.972, 1.014, 1.056], "format": ".4f", "grid": true, "labelPadding": 12, "labelFontSize": 13}},
                 "y2": {"field": "h"}}},
              {"data": {"name": "h4"}, "mark": {"type": "bar", "color": "#000000", "width": 2},
               "encoding": {"x": {"field": "i", "type": "quantitative", "title": null}, "y": {"field": "o", "type": "quantitative", "title": null}, "y2": {"field": "c"}}},
              {"data": {"name": "h4ma"}, "mark": {"type": "line", "strokeWidth": 2},
               "encoding": {"x": {"field": "i", "type": "quantitative", "title": null}, "y": {"field": "v", "type": "quantitative", "title": null},
                 "color": {"field": "s", "type": "nominal", "scale": {"domain": ["20 Hour", "50 Hour", "200 Hour"], "range": ["#d42b2b", "#2eb34f", "#2f7fc8"]},
                   "legend": {"title": null, "orient": "none", "legendX": 32, "legendY": -20, "labelFontSize": 13, "columnPadding": 9, "labelOffset": 3}}}}
            ]
          },
          {
            "width": 371, "height": 90,
            "layer": [
              {"data": {"name": "h4div"}, "mark": {"type": "rule", "strokeWidth": 1},
               "encoding": {
                 "x": {"field": "i", "type": "quantitative", "title": null, "scale": {"domain": [-3.67, 120], "nice": false, "zero": false}, "axis": null},
                 "y": {"field": "v", "type": "quantitative", "title": null, "scale": {"domain": [-0.025, 0.025], "nice": false},
                   "axis": {"values": [-0.025, 0, 0.025], "format": ".4f", "grid": true, "labelPadding": 8, "labelFontSize": 13}},
                 "y2": {"datum": 0},
                 "color": {"datum": "Divergence", "scale": {"domain": ["Divergence", "MACD", "MACD Signal Line"], "range": ["#8c8c8c", "#cc2424", "#2eb34f"]}}}},
              {"data": {"name": "h4macd"}, "mark": {"type": "line", "strokeWidth": 2},
               "encoding": {"x": {"field": "i", "type": "quantitative", "title": null}, "y": {"field": "v", "type": "quantitative", "title": null},
                 "color": {"field": "s", "type": "nominal", "scale": {"domain": ["Divergence", "MACD", "MACD Signal Line"], "range": ["#8c8c8c", "#cc2424", "#2eb34f"]},
                   "legend": {"title": null, "orient": "none", "legendX": 29, "legendY": 100, "labelFontSize": 13, "columnPadding": 14, "labelOffset": 12,
                     "encode": {"symbols": {"update": {"shape": {"signal": "datum.value === 'Divergence' ? 'M-1,-0.17H1V0.17H-1Z' : 'stroke'"}, "fill": {"signal": "datum.value === 'Divergence' ? '#555555' : 'transparent'"}, "strokeWidth": {"signal": "datum.value === 'Divergence' ? 0 : 2"}}}}}}}}
            ]
          }
        ],
        "spacing": 8,
        "resolve": {"scale": {"color": "independent"}, "legend": {"color": "independent"}}
      },
      {
        "width": 405, "height": 200,
        "layer": [
          {"data": {"name": "p2"}, "mark": {"type": "rule", "strokeWidth": 2},
           "encoding": {
             "y": {"field": "v", "type": "quantitative", "title": null, "scale": {"domain": [0.953, 1.081], "nice": false, "zero": false},
               "axis": {"values": [0.953, 0.985, 1.017, 1.049, 1.081], "format": ".4f", "grid": false, "tickSize": 5, "labelPadding": 3}},
             "color": {"field": "s", "type": "nominal", "scale": {"domain": ["CLOSE", "R2", "R1", "S1", "S2"], "range": ["#2b7bbf", "#b3d18a", "#f2a3a3", "#a58ccf", "#86cbe3"]},
               "legend": {"title": "Note: Support & Resistance Calculated based on 24 Hr Pivot Points", "titleOrient": "bottom", "titleAnchor": "middle", "titleFontWeight": "normal", "titleFontSize": 12, "titleColor": "#404040", "titlePadding": 10, "orient": "none", "legendX": -27, "legendY": 243, "labelFontSize": 13, "columnPadding": 31, "labelOffset": 1, "symbolSize": 1024}}}},
          {"data": {"name": "r2"}, "mark": {"type": "line", "strokeWidth": 2.5},
           "encoding": {
             "x": {"field": "i", "type": "quantitative", "title": null, "scale": {"domain": [0, 124], "nice": false, "zero": false},
               "axis": {"values": [0, 20, 40, 60, 80, 100, 120], "labelExpr": "[['12 Oct','12 Oct','13 Oct','14 Oct','17 Oct','18 Oct','19 Oct'][datum.value/20], ['0:00','20:00','16:00','12:00','8:00','4:00','0:00'][datum.value/20]]", "grid": false, "tickSize": 5, "labelFontSize": 13, "labelLineHeight": 16, "labelPadding": 12, "labelBaseline": "top"}},
             "y": {"field": "v", "type": "quantitative", "title": null},
             "color": {"datum": "CLOSE"}}},
          {"data": {"name": "p2"}, "mark": {"type": "text", "align": "right", "baseline": "bottom", "dx": -3, "dy": -4, "fontSize": 13, "color": "#404040"},
           "encoding": {"x": {"datum": 124}, "y": {"field": "v", "type": "quantitative", "title": null}, "text": {"field": "v", "type": "quantitative", "format": ".4f"}}}
        ]
      }
    ],
    "columns": 2, "align": "none", "spacing": 87,
    "resolve": {"scale": {"color": "independent"}, "legend": {"color": "independent"}}
  },
  {
    "width": 944, "height": 3,
    "data": {"name": "sep"},
    "mark": {"type": "rule", "color": "#9a9a9a", "strokeWidth": 2},
    "encoding": {"y": {"field": "y", "type": "quantitative", "scale": {"domain": [0, 1]}, "axis": null}}
  }
],
"columns": 1, "align": "none", "spacing": 10,
"resolve": {"scale": {"color": "independent"}, "legend": {"color": "independent"}}
}
